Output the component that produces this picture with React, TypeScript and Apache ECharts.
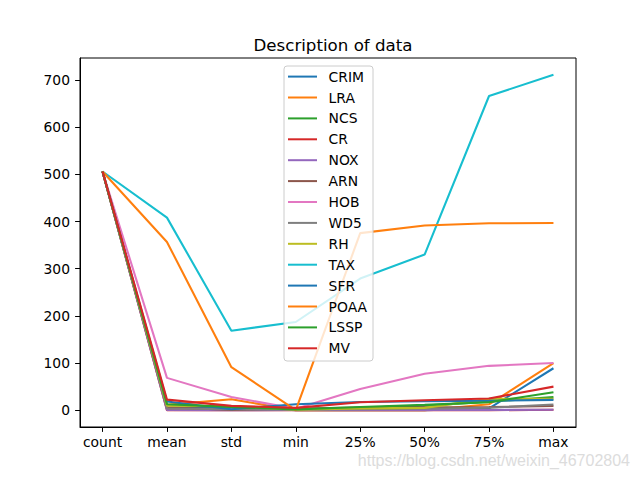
import React, { useEffect, useRef } from "react";
import * as echarts from "echarts";

const categories = ["count", "mean", "std", "min", "25%", "50%", "75%", "max"];
const yTicks = [0, 100, 200, 300, 400, 500, 600, 700];

const CRIM = [506, 3.61, 8.6, 0.01, 0.08, 0.26, 3.68, 88.98];
const LRA = [506, 11.36, 23.32, 0, 0, 0, 12.5, 100];
const NCS = [506, 11.14, 6.86, 0.46, 5.19, 9.69, 18.1, 27.74];
const CR = [506, 0.07, 0.25, 0, 0, 0, 0, 1];
const NOX = [506, 0.55, 0.12, 0.39, 0.45, 0.54, 0.62, 0.87];
const ARN = [506, 6.28, 0.7, 3.56, 5.89, 6.21, 6.62, 8.78];
const HOB = [506, 68.57, 28.15, 2.9, 45.03, 77.5, 94.08, 100];
const WD5 = [506, 3.8, 2.11, 1.13, 2.1, 3.21, 5.19, 12.13];
const RH = [506, 9.55, 8.71, 1, 4, 5, 24, 24];
const TAX = [506, 408.24, 168.54, 187, 279, 330, 666, 711];
const SFR = [506, 18.46, 2.16, 12.6, 17.4, 19.05, 20.2, 22];
const POAA = [506, 356.67, 91.29, 0.32, 375.38, 391.44, 396.23, 396.9];
const LSSP = [506, 12.65, 7.14, 1.73, 6.95, 11.36, 16.96, 37.97];
const MV = [506, 22.53, 9.2, 5, 17.03, 21.2, 25, 50];

const seriesList: [string, number[]][] = [
  ["CRIM", CRIM],
  ["LRA", LRA],
  ["NCS", NCS],
  ["CR", CR],
  ["NOX", NOX],
  ["ARN", ARN],
  ["HOB", HOB],
  ["WD5", WD5],
  ["RH", RH],
  ["TAX", TAX],
  ["SFR", SFR],
  ["POAA", POAA],
  ["LSSP", LSSP],
  ["MV", MV],
];

const palette = [
  "#1f77b4", "#ff7f0e", "#2ca02c", "#d62728", "#9467bd",
  "#8c564b", "#e377c2", "#7f7f7f", "#bcbd22", "#17becf",
];

const FONT = "DejaVu Sans";

export default function App() {
  const ref = useRef<HTMLDivElement>(null);
  useEffect(() => {
    if (!ref.current) return;
    const chart = echarts.init(ref.current, null, { renderer: "svg" });
    const allVals = seriesList.flatMap(([, v]) => v);
    const dMin = Math.min(...allVals);
    const dMax = Math.max(...allVals);
    const pad = (dMax - dMin) * 0.05;
    const n = categories.length - 1;
    chart.setOption({
      animation: false,
      color: palette,
      title: {
        text: "Description of data",
        left: 328,
        top: 32,
        textAlign: "center",
        textStyle: { fontFamily: FONT, fontSize: 16.67, fontWeight: "normal", color: "#000" },
      },
      grid: {
        left: 80,
        right: 64,
        top: 58,
        bottom: 53,
        show: true,
        borderColor: "#000",
        borderWidth: 1,
        backgroundColor: "transparent",
      },
      legend: {
        orient: "vertical",
        left: 284,
        top: 66,
        padding: [3.6, 6, 5.7, 4],
        backgroundColor: "rgba(255,255,255,0.8)",
        borderColor: "#cccccc",
        borderWidth: 1,
        borderRadius: 3,
        itemWidth: 29,
        itemHeight: 2,
        itemGap: 6.9,
        icon: "rect",
        textStyle: {
          fontFamily: FONT,
          fontSize: 13.89,
          lineHeight: 14,
          color: "#000",
          padding: [0, 0, 0, 6.6],
        },
        data: seriesList.map(([name]) => name),
      },
      xAxis: {
        type: "value",
        min: -0.05 * n,
        max: n + 0.05 * n,
        splitLine: { show: false },
        axisLine: { show: true, onZero: false, lineStyle: { color: "#000", width: 1 } },
        axisTick: {
          show: true,
          length: 4.9,
          lineStyle: { color: "#000", width: 1 },
          customValues: categories.map((_, i) => i),
        },
        axisLabel: {
          show: true,
          margin: 8,
          fontFamily: FONT,
          fontSize: 13.89,
          color: "#000",
          customValues: categories.map((_, i) => i),
          formatter: (v: number) => categories[Math.round(v)] ?? "",
        },
      },
      yAxis: {
        type: "value",
        min: dMin - pad,
        max: dMax + pad,
        splitLine: { show: false },
        axisLine: { show: true, onZero: false, lineStyle: { color: "#000", width: 1 } },
        axisTick: {
          show: true,
          length: 4.9,
          lineStyle: { color: "#000", width: 1 },
          customValues: yTicks,
        },
        axisLabel: {
          show: true,
          margin: 10,
          fontFamily: FONT,
          fontSize: 13.89,
          color: "#000",
          customValues: yTicks,
          formatter: (v: number) => String(Math.round(v)),
        },
      },
      graphic: [
        {
          type: "text",
          right: 10,
          top: 452,
          style: {
            text: "https://blog.csdn.net/weixin_46702804",
            fontFamily: "Liberation Sans",
            fontSize: 16,
            fill: "#dcdcdc",
          },
          z: 10,
        },
      ],
      series: seriesList.map(([name, vals], i) => ({
        name,
        type: "line",
        data: vals.map((v, j) => [j, v]),
        showSymbol: false,
        symbol: "none",
        lineStyle: { width: 2.08, color: palette[i % palette.length] },
        itemStyle: { color: palette[i % palette.length] },
        emphasis: { disabled: true },
        z: 2,
      })),
    });
    return () => chart.dispose();
  }, []);
  return <div ref={ref} style={{ width: 640, height: 480, position: "absolute", left: 0, top: 0 }} />;
}
